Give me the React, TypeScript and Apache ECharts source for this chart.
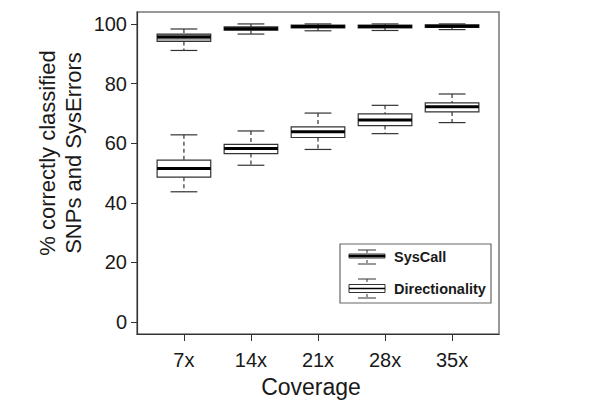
import React, { useEffect, useRef } from "react";
import * as echarts from "echarts";

const categories = ["7x", "14x", "21x", "28x", "35x"];
const yTicks = [0, 20, 40, 60, 80, 100];

const sysCallLow = [91.1, 96.6, 97.7, 97.8, 98.1];
const sysCallQ1 = [94.1, 97.9, 98.7, 98.7, 98.8];
const sysCallMedian = [95.6, 98.4, 99.1, 99.1, 99.2];
const sysCallQ3 = [96.6, 99.0, 99.6, 99.6, 99.7];
const sysCallHigh = [98.3, 100, 100, 100, 100];

const dirLow = [43.7, 52.6, 57.9, 63.2, 66.9];
const dirQ1 = [48.6, 56.5, 61.9, 65.9, 70.5];
const dirMedian = [51.5, 58.2, 63.8, 67.8, 72.2];
const dirQ3 = [54.3, 59.6, 65.5, 69.8, 73.5];
const dirHigh = [62.8, 64.1, 70.1, 72.7, 76.5];

const FONT = "'Liberation Sans', Arial, Helvetica, sans-serif";
const EDGE = "#333";

function buildData(low: number[], q1: number[], med: number[], q3: number[], high: number[]) {
  return categories.map((_, i) => [i + 1, low[i], q1[i], med[i], q3[i], high[i]]);
}

function makeRender(fill: string) {
  return (params: any, api: any) => {
    const x = api.value(0);
    const pLow = api.coord([x, api.value(1)]);
    const pQ1 = api.coord([x, api.value(2)]);
    const pMed = api.coord([x, api.value(3)]);
    const pQ3 = api.coord([x, api.value(4)]);
    const pHigh = api.coord([x, api.value(5)]);
    const halfW = api.size([0.8, 0])[0] / 2;
    const capHalf = api.size([0.4, 0])[0] / 2;
    const cx = pMed[0];
    const dash = { stroke: EDGE, lineWidth: 1.2, lineDash: [4, 3] };
    const solid = { stroke: EDGE, lineWidth: 1.2 };
    return {
      type: "group",
      children: [
        { type: "line", shape: { x1: cx, y1: pHigh[1], x2: cx, y2: pQ3[1] }, style: dash },
        { type: "line", shape: { x1: cx, y1: pQ1[1], x2: cx, y2: pLow[1] }, style: dash },
        { type: "line", shape: { x1: cx - capHalf, y1: pHigh[1], x2: cx + capHalf, y2: pHigh[1] }, style: solid },
        { type: "line", shape: { x1: cx - capHalf, y1: pLow[1], x2: cx + capHalf, y2: pLow[1] }, style: solid },
        {
          type: "rect",
          shape: { x: cx - halfW, y: pQ3[1], width: halfW * 2, height: pQ1[1] - pQ3[1] },
          style: { fill, stroke: EDGE, lineWidth: 1.2 },
        },
        { type: "line", shape: { x1: cx - halfW, y1: pMed[1], x2: cx + halfW, y2: pMed[1] }, style: { stroke: "#000", lineWidth: 3 } },
      ],
    };
  };
}

export default function App() {
  const ref = useRef<HTMLDivElement>(null);
  useEffect(() => {
    if (!ref.current) return;
    const chart = echarts.init(ref.current, undefined, { renderer: "svg" });
    const lx = 349;
    const option: any = {
      animation: false,
      backgroundColor: "#fff",
      grid: { left: 137, right: 101, top: 12, bottom: 74, show: true, borderColor: "#777", borderWidth: 1.5, backgroundColor: "transparent" },
      xAxis: {
        type: "value",
        min: 0.3,
        max: 5.7,
        splitLine: { show: false },
        axisLine: { show: true, onZero: false, lineStyle: { color: EDGE, width: 1.2 } },
        axisTick: { show: true, length: 7, customValues: [1, 2, 3, 4, 5], lineStyle: { color: EDGE } },
        axisLabel: {
          customValues: [1, 2, 3, 4, 5],
          formatter: (v: number) => categories[Math.round(v) - 1],
          fontFamily: FONT, fontSize: 20, color: "#1a1a1a", margin: 16,
        },
        name: "Coverage",
        nameLocation: "middle",
        nameGap: 41,
        nameTextStyle: { fontFamily: FONT, fontSize: 23, color: "#1a1a1a", padding: [0, 14, 0, 0] },
      },
      yAxis: {
        type: "value",
        min: -4,
        max: 104,
        splitLine: { show: false },
        axisLine: { show: true, onZero: false, lineStyle: { color: EDGE, width: 1.2 } },
        axisTick: { show: true, length: 6, customValues: yTicks, lineStyle: { color: EDGE } },
        axisLabel: { customValues: yTicks, fontFamily: FONT, fontSize: 20, color: "#1a1a1a", margin: 10 },
      },
      series: [
        {
          type: "custom",
          name: "SysCall",
          renderItem: makeRender("#a9a9a9"),
          encode: { x: 0, y: [1, 2, 3, 4, 5] },
          data: buildData(sysCallLow, sysCallQ1, sysCallMedian, sysCallQ3, sysCallHigh),
        },
        {
          type: "custom",
          name: "Directionality",
          renderItem: makeRender("#ffffff"),
          encode: { x: 0, y: [1, 2, 3, 4, 5] },
          data: buildData(dirLow, dirQ1, dirMedian, dirQ3, dirHigh),
        },
      ],
      graphic: [
        {
          type: "text",
          x: 60,
          y: 153,
          rotation: Math.PI / 2,
          style: {
            text: "% correctly classified\nSNPs and SysErrors",
            font: `22px ${FONT}`,
            fill: "#1a1a1a",
            align: "center",
            verticalAlign: "middle",
            lineHeight: 26,
          },
        },
        { type: "rect", shape: { x: 340, y: 244, width: 151, height: 59 }, style: { fill: "#fff", stroke: "#666", lineWidth: 1.2 } },
        // SysCall legend icon
        { type: "line", shape: { x1: 367, y1: 250, x2: 367, y2: 264 }, style: { stroke: EDGE, lineWidth: 1, lineDash: [3, 2] } },
        { type: "line", shape: { x1: 358, y1: 250, x2: 376, y2: 250 }, style: { stroke: EDGE, lineWidth: 1 } },
        { type: "line", shape: { x1: 358, y1: 264, x2: 376, y2: 264 }, style: { stroke: EDGE, lineWidth: 1 } },
        { type: "rect", shape: { x: lx, y: 254, width: 36, height: 4 }, style: { fill: "#a9a9a9", stroke: EDGE, lineWidth: 1 } },
        { type: "line", shape: { x1: lx, y1: 256, x2: lx + 36, y2: 256 }, style: { stroke: "#000", lineWidth: 2 } },
        { type: "text", x: 394, y: 257, style: { text: "SysCall", font: `bold 14.5px ${FONT}`, fill: "#1a1a1a", verticalAlign: "middle" } },
        // Directionality legend icon
        { type: "line", shape: { x1: 367, y1: 279, x2: 367, y2: 298 }, style: { stroke: EDGE, lineWidth: 1, lineDash: [3, 2] } },
        { type: "line", shape: { x1: 358, y1: 279, x2: 376, y2: 279 }, style: { stroke: EDGE, lineWidth: 1 } },
        { type: "line", shape: { x1: 358, y1: 298, x2: 376, y2: 298 }, style: { stroke: EDGE, lineWidth: 1 } },
        { type: "rect", shape: { x: lx, y: 284.5, width: 36, height: 8 }, style: { fill: "#fff", stroke: EDGE, lineWidth: 1 } },
        { type: "line", shape: { x1: lx, y1: 288.5, x2: lx + 36, y2: 288.5 }, style: { stroke: "#000", lineWidth: 1.5 } },
        { type: "text", x: 394, y: 289, style: { text: "Directionality", font: `bold 14.5px ${FONT}`, fill: "#1a1a1a", verticalAlign: "middle" } },
      ],
    };
    chart.setOption(option);
    return () => chart.dispose();
  }, []);
  return <div ref={ref} style={{ width: 600, height: 408, position: "absolute", left: 0, top: 0 }} />;
}
